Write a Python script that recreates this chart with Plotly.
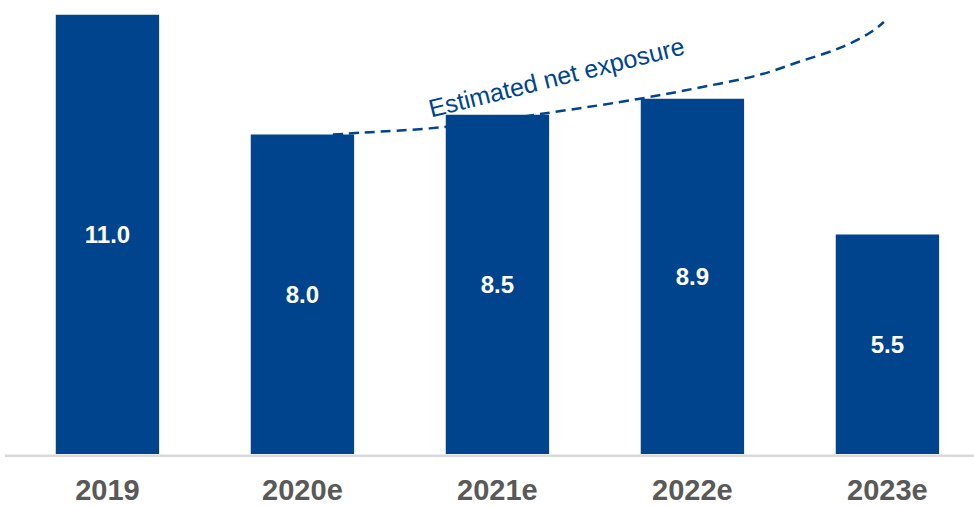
import plotly.graph_objects as go

categories = ["2019", "2020e", "2021e", "2022e", "2023e"]
values = [11.0, 8.0, 8.5, 8.9, 5.5]

# dashed "Estimated net exposure" curve (x in category index units, y in value units)
curve_x = [1.156, 1.310, 1.705, 2.269, 2.731, 3.038, 3.346, 3.551, 3.756, 3.910, 3.982]
curve_y = [8.00, 8.05, 8.18, 8.55, 8.90, 9.18, 9.50, 9.83, 10.17, 10.55, 10.82]

BLUE = "#00448E"
FONT = "Liberation Sans, Arial, sans-serif"

xpos = list(range(len(categories)))

fig = go.Figure()
fig.add_trace(go.Bar(
    x=xpos, y=values,
    width=0.53,
    marker=dict(color=BLUE, line=dict(width=0)),
    text=[f"{v:.1f}" for v in values],
    textposition="inside",
    insidetextanchor="middle",
    textangle=0,
    textfont=dict(color="white", size=24, family=FONT, weight="bold"),
    hoverinfo="skip",
))
fig.add_trace(go.Scatter(
    x=curve_x, y=curve_y,
    mode="lines",
    line=dict(color=BLUE, width=2.5, dash="10px,6px", shape="spline"),
    hoverinfo="skip",
))

fig.add_annotation(
    x=2.303, y=9.45, xref="x", yref="y",
    text="Estimated net exposure",
    showarrow=False, textangle=-14,
    font=dict(color=BLUE, size=25, family=FONT),
)

fig.add_shape(type="line", xref="paper", yref="paper",
              x0=5/974, x1=1, y0=-0.004, y1=-0.004,
              line=dict(color="#D9D9D9", width=2.5))

fig.update_layout(
    width=974, height=506,
    margin=dict(l=0, r=0, t=0, b=50),
    plot_bgcolor="white", paper_bgcolor="white",
    showlegend=False,
    bargap=0.47,
    xaxis=dict(
        range=[-0.551, 4.444],
        tickmode="array", tickvals=xpos, ticktext=categories,
        showgrid=False, zeroline=False, showline=False, ticks="",
        tickfont=dict(color="#595959", size=29, family=FONT, weight="bold"),
        ticklabelstandoff=16,
    ),
    yaxis=dict(
        range=[0, 456/40.1],
        visible=False, showgrid=False, zeroline=False,
    ),
)

fig.write_html("out.html", config={"displayModeBar": False},
               post_script="document.body.style.margin='0';document.body.style.overflow='hidden';")
